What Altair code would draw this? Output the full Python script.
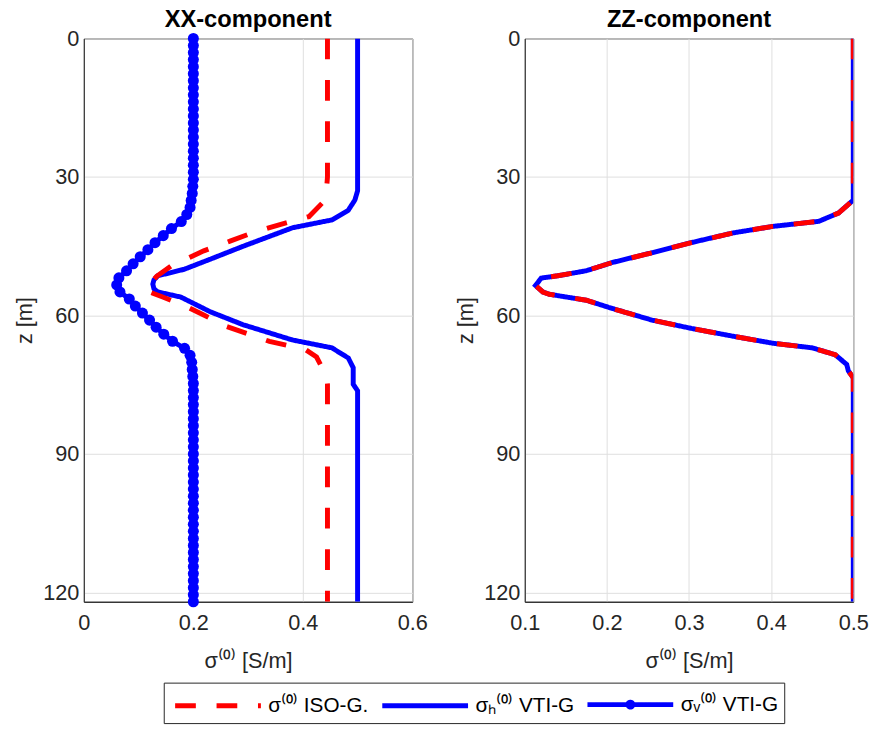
import altair as alt
import pandas as pd

# ---------------- data ----------------
series_labels = ["σ⁽⁰⁾ ISO-G.", "σₕ⁽⁰⁾ VTI-G", "σᵥ⁽⁰⁾ VTI-G"]
series_colors = ["#ff0000", "#0000ff", "#0000ff"]
series_dashes = [[21, 21], [1, 0], [1, 0]]

# XX-component, isotropic (red dashed)
xx_iso_z = [0, 30, 33, 35.7, 38.6, 40.4, 42, 43.9, 46, 49.3, 51.5, 53, 54.6, 56, 57.8,
            59.9, 62.4, 65.6, 67.4, 69, 71.3, 73, 75, 122]
xx_iso_s = [0.445, 0.445, 0.443, 0.435, 0.411, 0.355, 0.31, 0.267, 0.219, 0.159, 0.133, 0.122,
            0.113, 0.144, 0.183, 0.219, 0.261, 0.339, 0.405, 0.425, 0.435, 0.443, 0.445, 0.445]

# XX-component, VTI horizontal (blue solid)
xx_h_z = [0, 33, 35, 37.2, 39.3, 41, 45, 47.8, 50, 51.4, 52.3, 53.2, 54.2, 54.9, 56, 59.2,
          62, 65.3, 67, 69.2, 71.3, 74.9, 76.3, 122]
xx_h_s = [0.5, 0.5, 0.495, 0.483, 0.453, 0.381, 0.291, 0.231, 0.183, 0.135, 0.128, 0.126,
          0.128, 0.135, 0.177, 0.231, 0.291, 0.381, 0.453, 0.483, 0.492, 0.492, 0.5, 0.5]

# XX-component, VTI vertical (blue with dots)
xx_v_z = [0, 1.525, 3.05, 4.575, 6.1, 7.625, 9.15, 10.675, 12.2, 13.725, 15.25, 16.775,
          18.3, 19.825, 21.35, 22.875, 24.4, 25.925, 27.45, 28.975, 30.5, 32.025, 33.55,
          35.075, 36.6, 38.125, 39.65, 41.175, 42.7, 44.225, 45.75, 47.275, 48.8, 50.325,
          51.85, 53.375, 54.9, 56.425, 57.95, 59.475, 61, 62.525, 64.05, 65.575, 67.1,
          68.625, 70.15, 71.675, 73.2, 74.725, 76.25, 77.775, 79.3, 80.825, 82.35, 83.875,
          85.4, 86.925, 88.45, 89.975, 91.5, 93.025, 94.55, 96.075, 97.6, 99.125, 100.65,
          102.175, 103.7, 105.225, 106.75, 108.275, 109.8, 111.325, 112.85, 114.375, 115.9,
          117.425, 118.95, 120.475, 122]
xx_v_s = [0.2, 0.2, 0.2, 0.2, 0.2, 0.2, 0.2, 0.2, 0.2, 0.2, 0.2, 0.2,
          0.2, 0.2, 0.2, 0.2, 0.2, 0.2, 0.2, 0.2, 0.2, 0.199, 0.198,
          0.196, 0.194, 0.188, 0.178, 0.16, 0.145, 0.13, 0.117, 0.103, 0.09, 0.078,
          0.064, 0.06, 0.066, 0.083, 0.094, 0.107, 0.12, 0.132, 0.146, 0.162, 0.184,
          0.194, 0.197, 0.198, 0.199, 0.2, 0.2, 0.2, 0.2, 0.2, 0.2, 0.2,
          0.2, 0.2, 0.2, 0.2, 0.2, 0.2, 0.2, 0.2, 0.2, 0.2, 0.2,
          0.2, 0.2, 0.2, 0.2, 0.2, 0.2, 0.2, 0.2, 0.2, 0.2,
          0.2, 0.2, 0.2, 0.2]

# ZZ-component (ISO and VTI coincide)
zz_z = [0, 33, 35, 37.8, 39.6, 40.7, 42.1, 44.2, 46.4, 48.5, 50.3, 51.4, 51.9, 53.5, 54.9,
        55.4, 56.7, 58.5, 61, 62.8, 64.5, 66, 67, 68.5, 70.6, 72, 73.5, 122]
zz_s = [0.5, 0.5, 0.5, 0.482, 0.458, 0.402, 0.354, 0.303, 0.255, 0.207, 0.175, 0.14, 0.12,
        0.113, 0.122, 0.13, 0.175, 0.207, 0.255, 0.303, 0.354, 0.402, 0.45, 0.478, 0.492,
        0.494, 0.5, 0.5]

y_ticks = [0, 30, 60, 90, 120]
xx_ticks = [0, 0.2, 0.4, 0.6]
zz_ticks = [0.1, 0.2, 0.3, 0.4, 0.5]


def frame(z, s, name):
    return pd.DataFrame({"z": z, "s": s, "series": name})


iso_xx = frame(xx_iso_z, xx_iso_s, series_labels[0])
h_xx = frame(xx_h_z, xx_h_s, series_labels[1])
v_xx = frame(xx_v_z, xx_v_s, series_labels[2])
iso_zz = frame(zz_z, zz_s, series_labels[0])
h_zz = frame(zz_z, zz_s, series_labels[1])

# ---------------- styling ----------------
FONT = "Liberation Sans"
DARK = "#262626"
LW = 5

dot_path = "M-3.22,0H3.22M-0.185,0A0.185,0.185,0,1,1,0.185,0A0.185,0.185,0,1,1,-0.185,0"
line_path = "M-3.22,0H3.22"
shape_expr = "datum.index == 2 ? '" + dot_path + "' : '" + line_path + "'"

legend_common = dict(
    title=None,
    orient="none",
    legendX=81,
    legendY=653,
    direction="horizontal",
    columns=3,
    strokeColor=DARK,
    padding=6,
    labelFont=FONT,
    labelFontSize=21,
    labelColor="#000000",
    labelOffset=35,
    columnPadding=3,
    symbolSize=729,
    symbolStrokeWidth=LW,
    symbolOffset=33,
    labelLimit=300,
    symbolType=alt.ExprRef(expr=shape_expr),
    symbolFillColor="transparent",
)

color = alt.Color(
    "series:N",
    scale=alt.Scale(domain=series_labels, range=series_colors),
    legend=alt.Legend(**legend_common),
)
dash = alt.StrokeDash(
    "series:N",
    scale=alt.Scale(domain=series_labels, range=series_dashes),
    legend=alt.Legend(**legend_common),
)


def yenc():
    return alt.Y(
        "z:Q",
        scale=alt.Scale(domain=[0, 122], reverse=True, nice=False, zero=False),
        axis=alt.Axis(title="z [m]", values=y_ticks, ticks=False, labelPadding=5,
                      labelFlush=False, titlePadding=6, gridColor="#dedede"),
    )


def xenc(domain, ticks, fmt):
    return alt.X(
        "s:Q",
        scale=alt.Scale(domain=domain, nice=False, zero=False),
        axis=alt.Axis(title="σ⁽⁰⁾ [S/m]", values=ticks, format=fmt, ticks=False,
                      labelFlush=False, labelPadding=11, titlePadding=18,
                      gridColor="#dedede"),
    )


def line_layer(df, domain, ticks, fmt):
    return alt.Chart(df).mark_line(strokeWidth=LW, strokeCap="butt", clip=True).encode(
        x=xenc(domain, ticks, fmt),
        y=yenc(),
        color=color,
        strokeDash=dash,
        order=alt.Order("z:Q"),
    )


def title(text):
    return alt.TitleParams(text, fontSize=24, fontWeight="bold", font=FONT,
                           offset=-4, color="#000000")


xx_dom = [0, 0.6]
left = alt.layer(
    line_layer(h_xx, xx_dom, xx_ticks, "~g"),
    line_layer(iso_xx, xx_dom, xx_ticks, "~g"),
    line_layer(v_xx, xx_dom, xx_ticks, "~g"),
    alt.Chart(v_xx).mark_circle(size=125, opacity=1, clip=False).encode(
        x=xenc(xx_dom, xx_ticks, "~g"),
        y=yenc(),
        color=color,
    ),
).properties(width=333, height=571, title=title("XX-component"))

zz_dom = [0.1, 0.5]
right = alt.layer(
    line_layer(h_zz, zz_dom, zz_ticks, ".1f"),
    line_layer(iso_zz, zz_dom, zz_ticks, ".1f"),
).properties(width=333, height=571, title=title("ZZ-component"))

chart = alt.hconcat(left, right, spacing=26).properties(
    padding={"left": 13, "top": 2, "right": 5, "bottom": 2},
    background="white",
).configure_axis(
    labelFont=FONT,
    labelFontSize=22,
    labelColor=DARK,
    titleFont=FONT,
    titleFontSize=22,
    titleFontWeight="normal",
    titleColor=DARK,
    domainColor=DARK,
    domainWidth=1,
).configure_view(
    stroke=DARK,
    strokeWidth=1,
)

chart.save("out.html", embed_options={"renderer": "svg", "actions": False})
